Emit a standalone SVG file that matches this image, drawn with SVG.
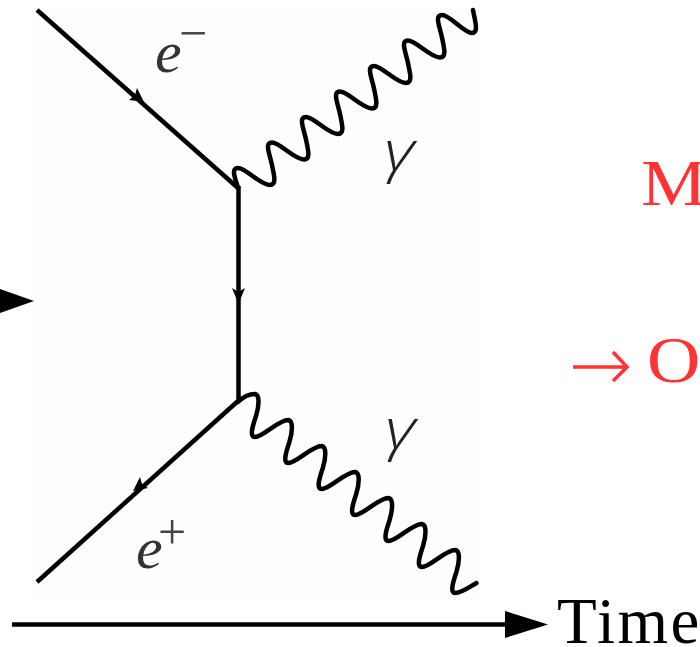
<svg xmlns="http://www.w3.org/2000/svg" width="700" height="647" viewBox="0 0 700 647">
<style>
.l{fill:none;stroke:#000;stroke-width:4.500}
.w{fill:none;stroke:#000;stroke-width:4.500;stroke-linecap:round;stroke-linejoin:round}
.h{fill:#000}
.m{font-family:"Liberation Serif",serif;font-style:italic;font-size:60px;fill:#333}
.g{font-family:"Open Sans",sans-serif;font-style:italic;font-weight:300;font-size:58px;fill:#222}
.s{font-family:"Liberation Serif",serif;font-size:50px;fill:#444}
.r{font-family:"Liberation Serif",serif;font-size:66px;fill:#ff3333}
.t{font-family:"Liberation Serif",serif;font-size:65px;fill:#000}
</style>
<rect width="700" height="647" fill="#fff"/>
<rect x="34" y="8" width="450" height="590" fill="#fefefe"/>
<g id="connectors">
<path class="l" d="M37,10L238,188"/>
<path class="l" d="M238.500,186V402"/>
<path class="l" d="M238,401L37,582"/>
<path class="w" d="M238,188c-2,-8 -8,-20 0,-20c8,0 22,17 32,17c7,0 4,-10 2,-20c-2,-10 -8,-22.500 0,-22.500c8,0 22,17 32,17c7,0 4,-10 2,-20c-2,-10 -8,-22.500 0,-22.500c8,0 22,17 32,17c7,0 4,-10 2,-20c-2,-10 -8,-22.500 0,-22.500c8,0 22,17 32,17c7,0 4,-10 2,-20c-2,-10 -8,-22.500 0,-22.500c8,0 22,17 32,17c7,0 4,-10 2,-20c-2,-10 -8,-22.500 0,-22.500c8,0 22,17 32,17c7,0 4,-10 2,-20c-2,-10 -8,-22.500 0,-22.500c8,0 22,18 30,18c7,0 3,-12 1,-23"/>
<path class="w" d="M238,402c5,-5 12,-8 17,-8c5,1 4,12 1,22c-3,9 -7,21 -1,21c8,0 23,-17 33.400,-17c5,1 4,12 1,22c-3,9 -7,21 -1,21c8,0 23,-17 33.400,-17c5,1 4,12 1,22c-3,9 -7,21 -1,21c8,0 23,-17 33.400,-17c5,1 4,12 1,22c-3,9 -7,21 -1,21c8,0 23,-17 33.400,-17c5,1 4,12 1,22c-3,9 -7,21 -1,21c8,0 23,-17 33.400,-17c5,1 4,12 1,22c-3,9 -7,21 -1,21c8,0 23,-17 33.400,-17c5,1 4,12 1,22c-3,9 -7,21 -1,21c6,0 14,-6 21,-10"/>
<path class="h" d="M144,102L129,100L135,95L137,88Z"/>
<path class="h" d="M238.500,304L232,288L238.500,292L245,288Z"/>
<path class="h" d="M133,491L148,488L142,484L140,477Z"/>
<path class="l" d="M12,624.500H510"/>
<path class="h" d="M505,611L548,624.500L505,638Z"/>
<path class="h" d="M0,289L34,301L0,313Z"/>
<path fill="none" stroke="#ff3333" stroke-width="3.500" d="M573,367H627M613,352L627,367L613,381"/>
</g>
<g id="e-minus"><text class="m" x="155" y="72">e</text><text class="s" x="179" y="50">−</text></g>
<g id="e-plus"><text class="m" x="136" y="568">e</text><text class="s" x="158" y="549">+</text></g>
<g id="gamma-top"><text class="g" transform="translate(384,171) scale(1.200,1)">γ</text></g>
<g id="gamma-bottom"><text class="g" transform="translate(385,449) scale(1.200,1)">γ</text></g>
<g id="red-text"><text class="r" transform="translate(641,205) scale(1.120,1)">M</text><text class="r" transform="translate(647,382) scale(1.120,1)">O</text></g>
<g id="time"><text class="t" x="557" y="643" letter-spacing="2.500">Time</text></g>
</svg>
